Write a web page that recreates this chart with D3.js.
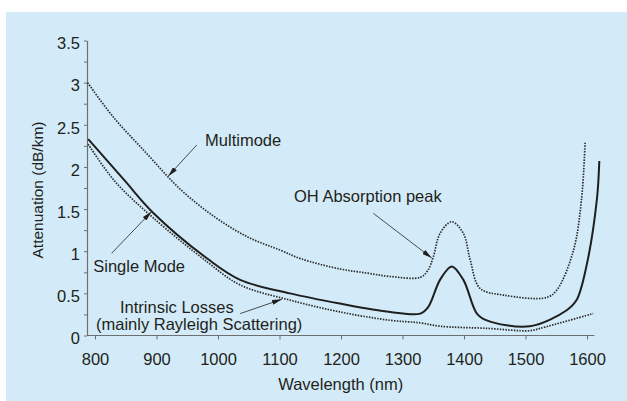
<!DOCTYPE html>
<html>
<head>
<meta charset="utf-8">
<script src="https://cdn.jsdelivr.net/npm/d3@7"></script>
<style>
  html, body { margin: 0; padding: 0; background: #ffffff; }
  svg { display: block; }
  text { font-family: "Liberation Sans", Arial, Helvetica, sans-serif; fill: #231f20; }
</style>
</head>
<body>
<svg id="chart" width="627" height="401"></svg>
<script>
// Fibre attenuation (dB/km) versus wavelength (nm)
const multimodeNm  = [788, 830, 884, 938, 994, 1048, 1102, 1135, 1198, 1243, 1280, 1329, 1341, 1350, 1361, 1380, 1399, 1410, 1426, 1464, 1534, 1551, 1578, 1591, 1597];
const multimodeDb  = [3.00, 2.59, 2.16, 1.74, 1.41, 1.17, 1.01, 0.91, 0.79, 0.74, 0.70, 0.69, 0.77, 0.93, 1.21, 1.35, 1.21, 0.90, 0.56, 0.48, 0.45, 0.54, 1.01, 1.61, 2.30];

const singleModeNm = [789, 848, 894, 983, 1036, 1117, 1198, 1280, 1329, 1342, 1361, 1380, 1399, 1421, 1437, 1507, 1567, 1583, 1599, 1616, 1620];
const singleModeDb = [2.33, 1.84, 1.46, 0.91, 0.66, 0.50, 0.38, 0.28, 0.26, 0.34, 0.66, 0.82, 0.66, 0.26, 0.18, 0.11, 0.30, 0.42, 0.82, 1.61, 2.07];

const intrinsicNm  = [789, 831, 894, 983, 1036, 1117, 1198, 1280, 1329, 1361, 1437, 1507, 1524, 1610];
const intrinsicDb  = [2.27, 1.84, 1.40, 0.87, 0.60, 0.42, 0.28, 0.18, 0.15, 0.11, 0.085, 0.057, 0.085, 0.26];

const xTickValues = [800, 900, 1000, 1100, 1200, 1300, 1400, 1500, 1600];
const yTickValues = [0, 0.25, 0.5, 0.75, 1, 1.25, 1.5, 1.75, 2, 2.25, 2.5, 2.75, 3, 3.25, 3.5];
const yTickLabels = [0, 0.5, 1, 1.5, 2, 2.5, 3, 3.5];

const xTitle = "Wavelength (nm)";
const yTitle = "Attenuation (dB/km)";

// Callouts: label text, label anchor and arrow (tail -> head), in data units
const calloutText   = ["Multimode", "OH Absorption peak", "Single Mode", "Intrinsic Losses", "(mainly Rayleigh Scattering)"];
const calloutAt     = [[979, 2.248], [1123.6, 1.584], [797.2, 0.753], [840.7, 0.267], [801.6, 0.065]];
const arrowFrom     = [[965.4, 2.26], [1252.5, 1.45], [827, 0.975], [1036, 0.26]];
const arrowTo       = [[919, 1.89], [1347.5, 0.92], [892, 1.47], [1104, 0.43]];

const svg = d3.select("#chart");

// light blue panel
svg.append("rect")
  .attr("x", 6).attr("y", 12)
  .attr("width", 621).attr("height", 389)
  .attr("fill", "#d3ebf8");

const x = d3.scaleLinear().domain([800, 1600]).range([95, 587]);
const y = d3.scaleLinear().domain([0, 3.5]).range([335.5, 40.5]);
const axisColor = "#6d6e70";

// axes
const xAxisG = svg.append("g").attr("transform", `translate(0,${y(0)})`);
xAxisG.append("line")
  .attr("x1", x(787)).attr("x2", x(1612))
  .attr("stroke", axisColor).attr("stroke-width", 1.2);
xAxisG.call(
  d3.axisBottom(x).tickValues(xTickValues).tickSize(4).tickSizeOuter(0).tickPadding(14)
    .tickFormat(d3.format("d"))
);
xAxisG.select(".domain").remove();

const yAxisG = svg.append("g").attr("transform", `translate(${x(787)},0)`);
yAxisG.call(
  d3.axisLeft(y).tickValues(yTickValues).tickSize(3).tickSizeOuter(0).tickPadding(4)
    .tickFormat(d => yTickLabels.includes(d) ? d3.format("")(d) : "")
);
yAxisG.select(".domain").attr("stroke", axisColor).attr("stroke-width", 1.2);

[xAxisG, yAxisG].forEach(g => {
  g.selectAll(".tick line").attr("stroke", axisColor).attr("stroke-width", 1);
  g.selectAll(".tick text")
    .attr("font-size", 16.5)
    .attr("font-family", "Liberation Sans, Arial, sans-serif")
    .attr("fill", "#231f20");
});
yAxisG.selectAll(".tick text").attr("dy", "0.5em");

// axis titles
svg.append("text")
  .attr("x", (x(787) + x(1612)) / 2).attr("y", 390)
  .attr("text-anchor", "middle")
  .attr("font-size", 16.5)
  .text(xTitle);

svg.append("text")
  .attr("transform", `translate(43,${(y(0) + y(3.5)) / 2 + 2}) rotate(-90)`)
  .attr("text-anchor", "middle")
  .attr("font-size", 15.5)
  .text(yTitle);

// curves
const line = d3.line()
  .x(d => x(d[0]))
  .y(d => y(d[1]))
  .curve(d3.curveCatmullRom.alpha(0.5));

const series = [
  { nm: multimodeNm,  db: multimodeDb,  dash: "1.5,1.3", width: 1.7, color: "#2b2b2b" },
  { nm: intrinsicNm,  db: intrinsicDb,  dash: "1.5,1.3", width: 1.7, color: "#2b2b2b" },
  { nm: singleModeNm, db: singleModeDb, dash: null,      width: 2.0, color: "#1f1f1f" }
];

series.forEach(s => {
  svg.append("path")
    .datum(s.nm.map((v, i) => [v, s.db[i]]))
    .attr("d", line)
    .attr("fill", "none")
    .attr("stroke", s.color)
    .attr("stroke-width", s.width)
    .attr("stroke-dasharray", s.dash)
    .attr("stroke-linejoin", "round");
});

// arrowhead marker
svg.append("defs").append("marker")
  .attr("id", "head")
  .attr("viewBox", "0 0 10 5")
  .attr("refX", 10).attr("refY", 2.5)
  .attr("markerWidth", 10).attr("markerHeight", 5)
  .attr("markerUnits", "userSpaceOnUse")
  .attr("orient", "auto")
  .append("path")
  .attr("d", "M0,0 L10,2.5 L0,5 Z")
  .attr("fill", "#1f1f1f");

arrowFrom.forEach((f, i) => {
  const t = arrowTo[i];
  svg.append("line")
    .attr("x1", x(f[0])).attr("y1", y(f[1]))
    .attr("x2", x(t[0])).attr("y2", y(t[1]))
    .attr("stroke", "#3a3a3a")
    .attr("stroke-width", 0.9)
    .attr("marker-end", "url(#head)");
});

// callout labels
calloutText.forEach((t, i) => {
  svg.append("text")
    .attr("x", x(calloutAt[i][0]))
    .attr("y", y(calloutAt[i][1]))
    .attr("font-size", 16.5)
    .text(t);
});
</script>
</body>
</html>
